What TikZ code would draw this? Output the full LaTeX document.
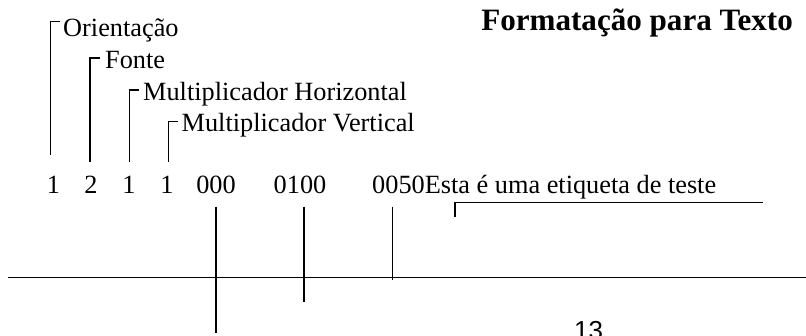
\documentclass[tikz,border=0pt]{standalone}
\usepackage{fontspec}
\setmainfont{Liberation Serif}
\newfontfamily\arialfont{Liberation Sans}
\begin{document}
\begin{tikzpicture}[x=1pt,y=-1pt,
  lbl/.style={inner sep=0pt,anchor=base west,font=\fontsize{26.3}{30}\selectfont},
  num/.style={inner sep=0pt,anchor=base,font=\fontsize{26.3}{30}\selectfont},
  ttl/.style={inner sep=0pt,anchor=base east,font=\fontsize{31.1}{34}\selectfont\bfseries},
  ln/.style={line width=1.4pt,line cap=butt}]
\useasboundingbox (0,0) rectangle (806,336);
% title
\node[ttl] (title) at (793,31) {Formatação para Texto};
% bracket labels
\node[lbl] (ori) at (63,37) {Orientação};
\node[lbl] (fon) at (105,69) {Fonte};
\node[lbl] (mh) at (143,100.5) {Multiplicador Horizontal};
\node[lbl] (mv) at (181.5,131.5) {Multiplicador Vertical};
% code line
\node[num] (d1) at (53.5,194) {1};
\node[num] (d2) at (91,194) {2};
\node[num] (d3) at (129,194) {1};
\node[num] (d4) at (167,194) {1};
\node[num] (d5) at (216,194) {000};
\node[num] (d6) at (300,194) {0100};
\node[lbl] (d7) at (372,194) {0050Esta é uma etiqueta de teste};
% brackets
\coordinate (b1a) at (50.7,155); \coordinate (b1b) at (50.7,21.7); \coordinate (b1c) at (60,21.7);
\coordinate (b2a) at (90,162); \coordinate (b2b) at (90,58); \coordinate (b2c) at (100,58);
\coordinate (b3a) at (129.3,162); \coordinate (b3b) at (129.3,90); \coordinate (b3c) at (139,90);
\coordinate (b4a) at (168.3,162); \coordinate (b4b) at (168.3,121.7); \coordinate (b4c) at (178,121.7);
\draw[ln] (b1a) -- (b1b) -- (b1c);
\draw[ln] (b2a) -- (b2b) -- (b2c);
\draw[ln] (b3a) -- (b3b) -- (b3c);
\draw[ln] (b4a) -- (b4b) -- (b4c);
% bracket under text
\coordinate (e1) at (455,216.7); \coordinate (e2) at (455,202.3); \coordinate (e3) at (762.7,202.3);
\draw[ln] (e1) -- (e2) -- (e3);
% horizontal line
\coordinate (h1) at (8,277.3); \coordinate (h2) at (806,277.3);
\draw[ln] (h1) -- (h2);
% verticals
\coordinate (v1a) at (216,206.7); \coordinate (v1b) at (216,333);
\coordinate (v2a) at (304,206.7); \coordinate (v2b) at (304,301.7);
\coordinate (v3a) at (392.7,206.7); \coordinate (v3b) at (392.7,280);
\draw[ln] (v1a) -- (v1b);
\draw[ln] (v2a) -- (v2b);
\draw[ln] (v3a) -- (v3b);
% page number
\node[inner sep=0pt,anchor=north west,font=\arialfont\fontsize{26}{30}\selectfont] (pg) at (574,321) {13};
\end{tikzpicture}
\end{document}
